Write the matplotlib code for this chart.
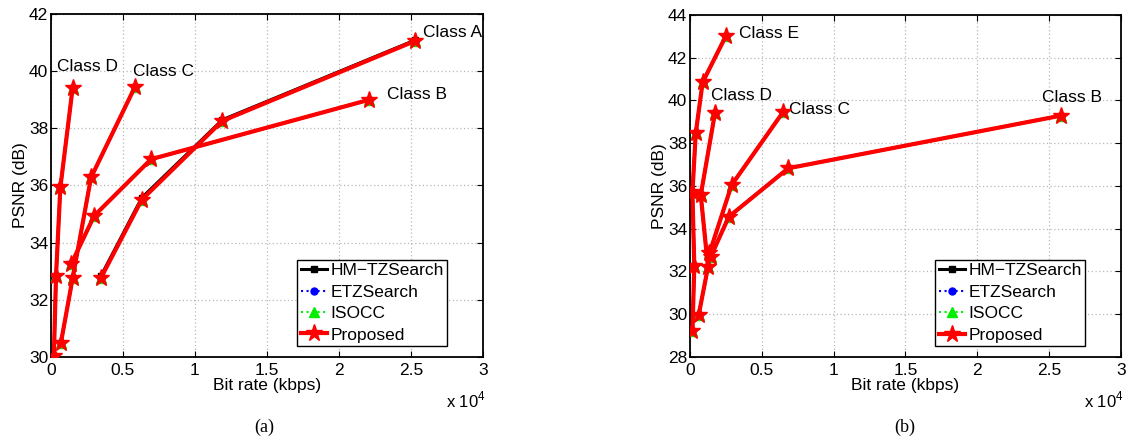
import matplotlib
matplotlib.use('Agg')
import matplotlib.pyplot as plt

plt.rcParams['font.family'] = ['Liberation Sans', 'DejaVu Sans']
plt.rcParams['mathtext.fontset'] = 'custom'
plt.rcParams['mathtext.rm'] = 'Liberation Sans'

methods = ['HM\u2212TZSearch', 'ETZSearch', 'ISOCC', 'Proposed']

# (a) bit rate in units of 10^4 kbps, PSNR in dB
a_classes = ['Class A', 'Class B', 'Class C', 'Class D']
a_rate_A = [0.345, 0.63, 1.19, 2.525]
a_psnr_A = [32.75, 35.5, 38.26, 41.05]
a_hm_psnr_A = [32.82, 35.57, 38.3, 41.08]
a_rate_B = [0.14, 0.30, 0.695, 2.21]
a_psnr_B = [33.25, 34.94, 36.92, 39.0]
a_rate_C = [0.069, 0.15, 0.278, 0.583]
a_psnr_C = [30.5, 32.75, 36.28, 39.45]
a_rate_D = [0.02, 0.035, 0.065, 0.15]
a_psnr_D = [30.05, 32.85, 35.93, 39.4]

# (b)
b_classes = ['Class B', 'Class C', 'Class D', 'Class E']
b_rate_B = [0.145, 0.27, 0.684, 2.58]
b_psnr_B = [32.7, 34.56, 36.83, 39.29]
b_rate_C = [0.135, 0.29, 0.65]
b_psnr_C = [32.85, 36.05, 39.48]
b_rate_D = [0.06, 0.125, 0.075, 0.174]
b_psnr_D = [29.95, 32.2, 35.58, 39.42]
b_rate_E = [0.017, 0.03, 0.017, 0.04, 0.088, 0.25]
b_psnr_E = [29.2, 32.25, 35.7, 38.47, 40.85, 43.02]

styles = [
    dict(color='black', linestyle='-', linewidth=2.2, marker='s', markersize=4),
    dict(color='blue', linestyle=':', linewidth=1.5, marker='o', markersize=5,
         markerfacecolor='blue', markeredgecolor='blue'),
    dict(color='#00ee00', linestyle=':', linewidth=1.5, marker='^', markersize=7),
    dict(color='red', linestyle='-', linewidth=3, marker='*', markersize=12.5),
]


def draw(ax, series, hm_series):
    for m, st in enumerate(styles):
        data = hm_series if m == 0 else series
        for k, (x, y) in enumerate(data):
            ax.plot(x, y, label=methods[m] if k == 0 else None, zorder=2 + m, **st)


def finish(ax, ylim):
    ax.set_xlim(0, 3)
    ax.set_ylim(*ylim)
    ax.set_xticks([0, 0.5, 1, 1.5, 2, 2.5, 3])
    ax.set_xticklabels(['0', '0.5', '1', '1.5', '2', '2.5', '3'])
    ax.set_yticks(range(ylim[0], ylim[1] + 1, 2))
    ax.grid(True, color='#b8b8b8', linestyle=(0, (1, 2)), linewidth=0.9)
    ax.tick_params(direction='in', top=True, right=True, length=4, labelsize=12.5)
    ax.tick_params(axis='x', pad=4)
    ax.tick_params(axis='y', pad=2)
    for s in ax.spines.values():
        s.set_linewidth(1.3)
    ax.set_xlabel('Bit rate (kbps)', fontsize=12.5, labelpad=0)
    ax.set_ylabel('PSNR (dB)', fontsize=12.5, labelpad=1)
    ax.text(0.915, -0.125, 'x 10$^4$', transform=ax.transAxes, ha='left', va='center', fontsize=12)
    leg = ax.legend(loc='lower right', bbox_to_anchor=(0.917, 0.032), borderaxespad=0,
                    fontsize=12.5, fancybox=False, framealpha=1, edgecolor='black',
                    handlelength=1.5, handletextpad=0.2, labelspacing=0.36, borderpad=0.2)
    leg.get_frame().set_linewidth(1.0)


fig = plt.figure(figsize=(11.27, 4.41), dpi=100)
ax1 = fig.add_axes([0.04525, 0.19048, 0.38332, 0.77778])
ax2 = fig.add_axes([0.61224, 0.19048, 0.38243, 0.77551])

draw(ax1,
     [(a_rate_A, a_psnr_A), (a_rate_B, a_psnr_B), (a_rate_C, a_psnr_C), (a_rate_D, a_psnr_D)],
     [(a_rate_A, a_hm_psnr_A), (a_rate_B, a_psnr_B), (a_rate_C, a_psnr_C), (a_rate_D, a_psnr_D)])
finish(ax1, (30, 42))
ax1.text(2.58, 41.36, a_classes[0], fontsize=12.5, va='center')
ax1.text(2.33, 39.17, a_classes[1], fontsize=12.5, va='center')
ax1.text(0.57, 40.0, a_classes[2], fontsize=12.5, va='center')
ax1.text(0.044, 40.16, a_classes[3], fontsize=12.5, va='center')

b_series = [(b_rate_B, b_psnr_B), (b_rate_C, b_psnr_C), (b_rate_D, b_psnr_D), (b_rate_E, b_psnr_E)]
draw(ax2, b_series, b_series)
finish(ax2, (28, 44))
ax2.text(2.447, 40.13, b_classes[0], fontsize=12.5, va='center')
ax2.text(0.69, 39.56, b_classes[1], fontsize=12.5, va='center')
ax2.text(0.146, 40.22, b_classes[2], fontsize=12.5, va='center')
ax2.text(0.343, 43.14, b_classes[3], fontsize=12.5, va='center')

fig.text(264 / 1127, 1 - 427 / 441, '(a)', family='Liberation Serif', fontsize=13, ha='center', va='center')
fig.text(905 / 1127, 1 - 427 / 441, '(b)', family='Liberation Serif', fontsize=13, ha='center', va='center')

fig.savefig('out.png', dpi=100)
